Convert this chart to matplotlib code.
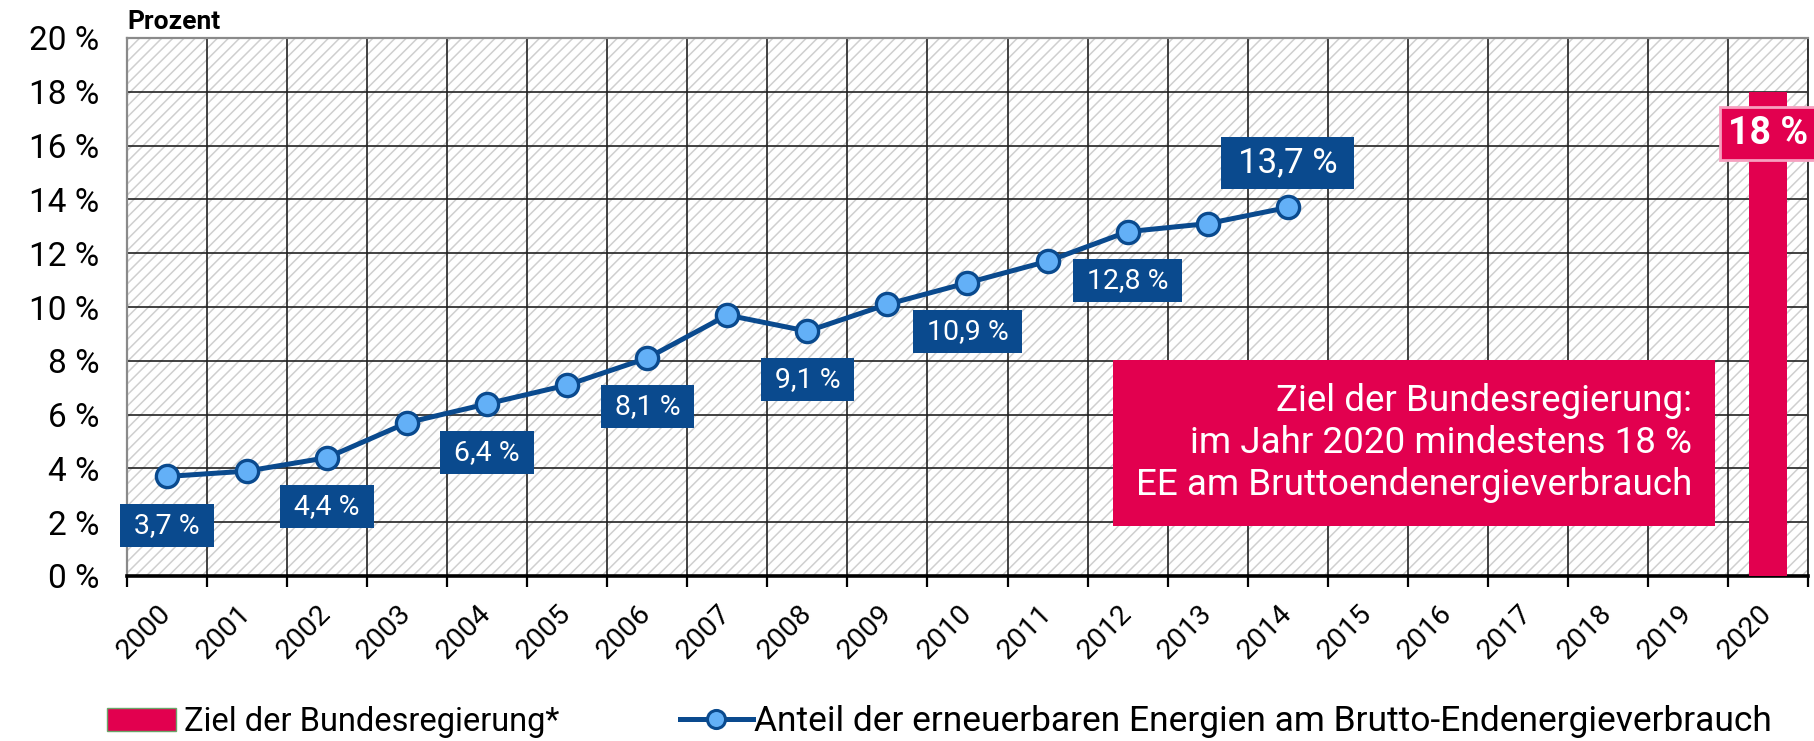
import matplotlib
matplotlib.use("Agg")
import matplotlib.pyplot as plt
from matplotlib import font_manager
from matplotlib.patches import Patch, Rectangle
from matplotlib.lines import Line2D
import numpy as np

# data
years = [str(y) for y in range(2000, 2021)]
share_values = [3.7, 3.9, 4.4, 5.7, 6.4, 7.1, 8.1, 9.7, 9.1, 10.1, 10.9, 11.7, 12.8, 13.1, 13.7]
labelled_idx = [0, 2, 4, 6, 8, 10, 12, 14]
target_value = 18
y_ticks = list(range(0, 21, 2))

BLUE = "#0a4a8e"
LIGHTBLUE = "#63b0f7"
RED = "#e2004f"


def pick_font(names):
    for name in names:
        try:
            font_manager.findfont(font_manager.FontProperties(family=name), fallback_to_default=False)
            return name
        except ValueError:
            pass
    return "DejaVu Sans"


FONT = pick_font(["Roboto", "Lato", "Open Sans"])
plt.rcParams["font.family"] = [FONT, "DejaVu Sans"]
plt.rcParams["hatch.color"] = "#cfcfcf"
plt.rcParams["hatch.linewidth"] = 1.1

fig = plt.figure(figsize=(18.14, 7.41), dpi=100)
ax = fig.add_axes([127 / 1814, 1 - 576 / 741, (1808 - 127) / 1814, (576 - 38) / 741])

# hatched background
ax.add_patch(Rectangle((0, 0), 1, 1, transform=ax.transAxes, facecolor="white",
                       edgecolor="#cfcfcf", lw=0, hatch="///", zorder=0.1))

x = np.arange(len(years))
xs = x[:len(share_values)]

ax.bar(x[-1], target_value, width=0.47, color=RED, zorder=3)
ax.plot(xs, share_values, color=BLUE, lw=3.6, marker="o", ms=16, mfc=LIGHTBLUE,
        mec=BLUE, mew=2.4, zorder=5, clip_on=False)

# value boxes
for i in labelled_idx:
    last = i == len(share_values) - 1
    txt = "\u2009" + f"{share_values[i]:.1f}".replace(".", ",") + " %\u2009"
    ax.annotate(txt, (xs[i], share_values[i]), xytext=(0, 32 if last else -35),
                textcoords="offset points", ha="center", va="center",
                fontsize=25 if last else 20.5, color="white", zorder=6,
                bbox=dict(boxstyle="square,pad=0.28", facecolor=BLUE, edgecolor="none"))

# target label on bar
ax.annotate(f"{target_value} %", (x[-1], target_value), xytext=(0, -30),
            textcoords="offset points", ha="center", va="center", fontsize=27,
            fontweight="bold", color="white", zorder=6, annotation_clip=False,
            bbox=dict(boxstyle="square,pad=0.22", facecolor=RED, edgecolor="#f7a0c0", lw=2))

ax.text(19.05, 4.94, "Ziel der Bundesregierung:\nim Jahr 2020 mindestens 18 %\nEE am Bruttoendenergieverbrauch",
        ha="right", va="center", multialignment="right", fontsize=26.5, color="white",
        linespacing=1.22, zorder=6,
        bbox=dict(boxstyle="square,pad=0.62", facecolor=RED, edgecolor="none"))

ax.set_xlim(-0.5, len(years) - 0.5)
ax.set_ylim(0, 20)

ax.set_xticks(x)
ax.set_xticklabels(years, rotation=45, ha="right", va="center", rotation_mode="anchor")
ax.set_xticks(np.arange(-0.5, len(years)), minor=True)
ax.tick_params(axis="x", which="major", length=0, pad=24, labelsize=20.5)
ax.tick_params(axis="x", which="minor", length=8, width=1.6, color="black", direction="out")
ax.set_yticks(y_ticks)
ax.set_yticklabels([f"{v} %" for v in y_ticks])
ax.tick_params(axis="y", length=0, pad=20, labelsize=24)

ax.set_axisbelow(True)
ax.grid(axis="x", which="minor", color="#222222", lw=1.2)
ax.grid(axis="y", which="major", color="#222222", lw=1.2)
ax.grid(axis="x", which="major", visible=False)

for side in ["left", "top"]:
    ax.spines[side].set_color("#8a8a8a")
    ax.spines[side].set_linewidth(1.6)
ax.spines["right"].set_color("#333333")
ax.spines["right"].set_linewidth(1.4)
ax.spines["bottom"].set_color("black")
ax.spines["bottom"].set_linewidth(2.6)

ax.text(0, 1.008, "Prozent", transform=ax.transAxes, ha="left", va="bottom",
        fontsize=19, fontweight="bold")

# legend
h1 = Patch(facecolor=RED, edgecolor="#6aa56a", lw=1)
fig.legend([h1], ["Ziel der Bundesregierung*"], loc="center left",
           bbox_to_anchor=(107 / 1814, 1 - 722 / 741), frameon=False, fontsize=23.5,
           borderpad=0, borderaxespad=0, handlelength=2.1, handleheight=0.68, handletextpad=0.26)
h2 = Line2D([], [], color=BLUE, lw=3.6, marker="o", ms=13, mfc=LIGHTBLUE, mec=BLUE, mew=2.2)
fig.legend([h2], ["Anteil der erneuerbaren Energien am Brutto-Endenergieverbrauch"], loc="center left",
           bbox_to_anchor=(680 / 1814, 1 - 722 / 741), frameon=False, fontsize=25.5,
           borderpad=0, borderaxespad=0, handlelength=2.05, handletextpad=0.05)

fig.savefig("out.png", dpi=100)
